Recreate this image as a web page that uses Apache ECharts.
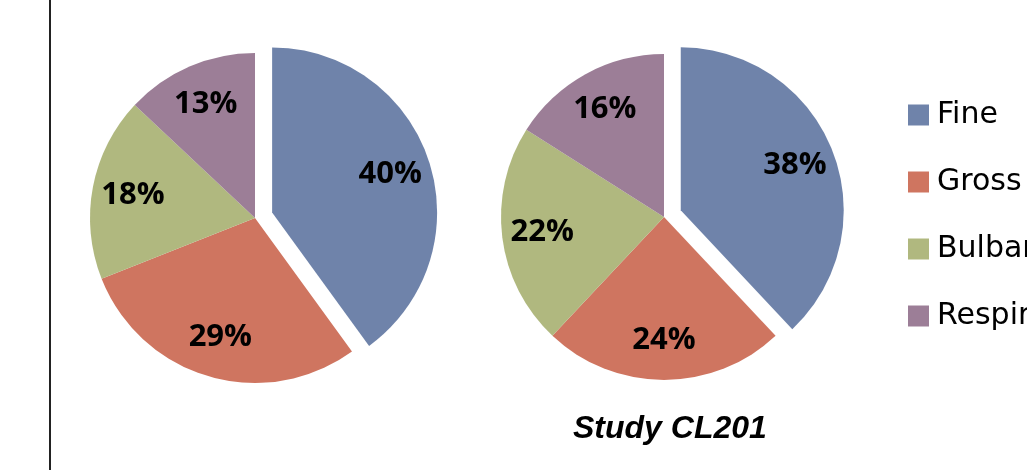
<!DOCTYPE html>
<html>
<head>
<meta charset="utf-8">
<script src="https://cdn.jsdelivr.net/npm/echarts@6/dist/echarts.min.js"></script>
<style>
  html, body { margin: 0; padding: 0; background: #fff; }
  #chart { width: 1027px; height: 470px; }
</style>
</head>
<body>
<div id="chart"></div>
<script>
// categories and values
var categories = ['Fine', 'Gross', 'Bulbar', 'Respiratory'];
var leftValues = [40, 29, 18, 13];
var rightValues = [38, 24, 22, 16];
var colors = ['#6f83aa', '#cf7560', '#b0b87f', '#9c7e97'];

function toData(values) {
  return categories.map(function (name, i) {
    return { name: name, value: values[i], selected: i === 0 };
  });
}

// visible pie, no labels
function piePart(center, r, values) {
  return {
    type: 'pie',
    center: center,
    radius: [0, r],
    startAngle: 90,
    clockwise: true,
    selectedMode: 'single',
    selectedOffset: 18,
    silent: true,
    label: { show: false },
    labelLine: { show: false },
    emphasis: { scale: false },
    data: toData(values)
  };
}

// transparent ring that only carries the percentage labels
function labelPart(center, r, values) {
  return {
    type: 'pie',
    center: center,
    radius: [r * 0.47, r],
    startAngle: 90,
    clockwise: true,
    selectedMode: 'single',
    selectedOffset: 18,
    silent: true,
    itemStyle: { color: 'rgba(0,0,0,0)' },
    label: {
      show: true,
      position: 'inside',
      formatter: '{c}%',
      color: '#000',
      fontFamily: 'Open Sans',
      fontWeight: 'bold',
      fontSize: 31
    },
    labelLine: { show: false },
    emphasis: { scale: false },
    data: toData(values)
  };
}

var myChart = echarts.init(document.getElementById('chart'));
var option = {
  animation: false,
  backgroundColor: '#fff',
  color: colors,
  title: {
    text: 'Study CL201',
    left: 568,
    top: 408,
    textStyle: {
      fontFamily: 'Liberation Sans',
      fontStyle: 'italic',
      fontWeight: 'bold',
      fontSize: 32,
      color: '#000'
    }
  },
  legend: {
    orient: 'vertical',
    left: 903,
    top: 95,
    itemWidth: 21,
    itemHeight: 21,
    itemGap: 37,
    icon: 'rect',
    selectedMode: false,
    textStyle: { fontFamily: 'DejaVu Sans', fontSize: 30, color: '#000', padding: [0, 0, 0, 3] },
    data: categories.map(function (name, i) {
      return { name: name, itemStyle: { color: colors[i] } };
    })
  },
  graphic: [{
    type: 'line',
    shape: { x1: 50, y1: 0, x2: 50, y2: 470 },
    style: { stroke: '#222', lineWidth: 2 }
  }],
  series: [
    piePart([255, 218], 165, leftValues),
    piePart([664, 217], 163, rightValues),
    labelPart([255, 218], 165, leftValues),
    labelPart([664, 217], 163, rightValues)
  ]
};
myChart.setOption(option);
</script>
</body>
</html>
